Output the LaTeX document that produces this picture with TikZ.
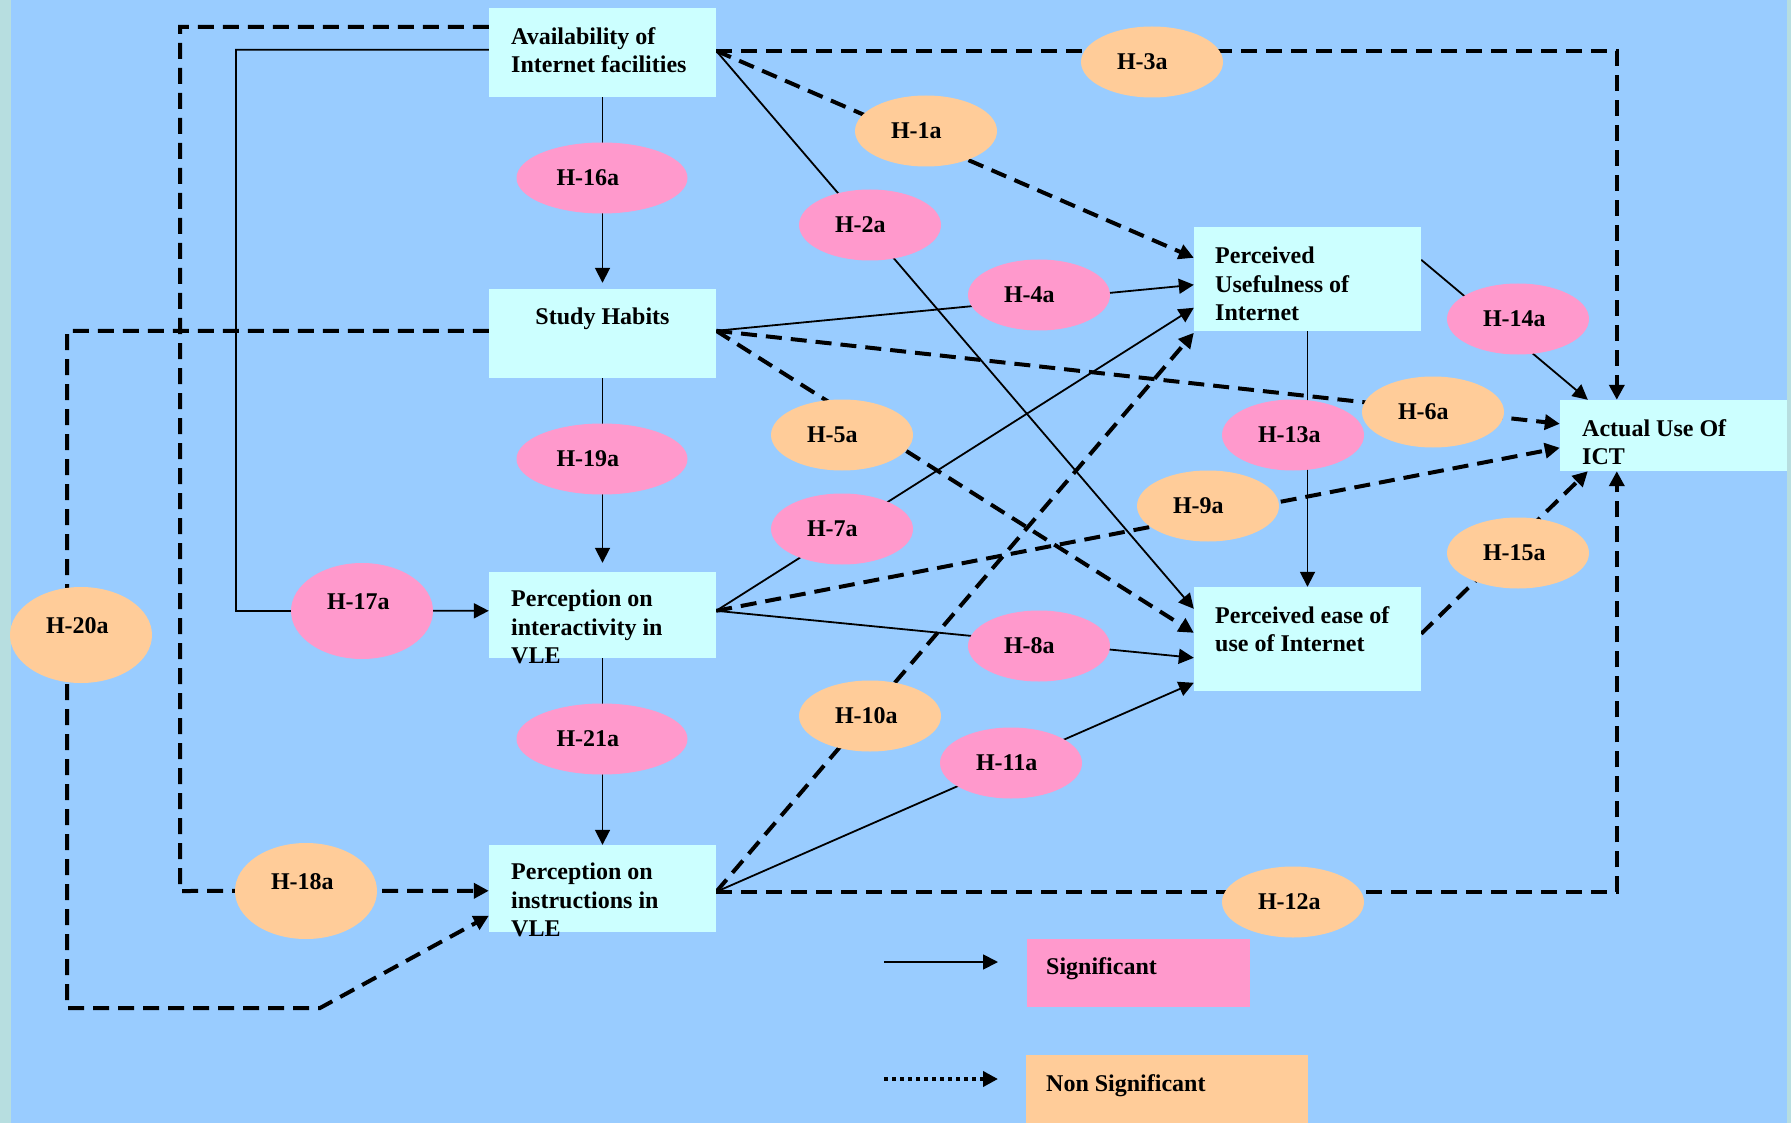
\documentclass[tikz,border=0pt]{standalone}
\usepackage{fontspec}
\setmainfont{Liberation Serif}
\usetikzlibrary{shapes.geometric,arrows.meta,calc}
\definecolor{bgc}{HTML}{99CCFF}
\definecolor{stripc}{HTML}{B7DEE0}
\definecolor{boxc}{HTML}{CCFFFF}
\definecolor{pinkc}{HTML}{FF99CC}
\definecolor{orangec}{HTML}{FFCC99}
\pgfdeclarelayer{back}
\pgfdeclarelayer{lines}
\pgfsetlayers{back,lines,main}
\tikzset{
 boxn/.style={fill=boxc, inner sep=0pt, minimum width=227pt},
 btxt/.style={font=\bfseries\fontsize{24}{28.5}\selectfont, align=left, inner sep=0pt, anchor=north west},
 hyp/.style={ellipse, inner sep=0pt, minimum width=142pt, minimum height=71pt, text width=70pt, align=left, font=\bfseries\fontsize{24}{28.5}\selectfont},
 hypw/.style={hyp, minimum width=171pt, text width=91pt},
 hypt/.style={hyp, minimum height=96pt, text height=16pt, text depth=20pt},
 sigf/.style={fill=pinkc},
 nsf/.style={fill=orangec},
 sol/.style={line width=1.8pt},
 dsh/.style={line width=4pt, dash pattern=on 16pt off 9pt},
 dotl/.style={line width=4pt, dash pattern=on 4pt off 4pt},
 arr/.style={-{Triangle[length=15pt,width=15pt]}},
}
\begin{document}
\begin{tikzpicture}[x=1pt,y=-1pt]
\useasboundingbox (0,0) rectangle (1791,1123);
\begin{pgfonlayer}{back}
\fill[bgc] (0,0) rectangle (1791,1123);
\fill[stripc] (0,0) rectangle (11,1123);
\fill[stripc] (1787,0) rectangle (1791,1123);
\end{pgfonlayer}

% boxes
\node[boxn, minimum height=89pt] (avail) at (602.5,52.5) {};
\node[boxn, minimum height=89pt] (study) at (602.5,333.5) {};
\node[boxn, minimum height=86pt] (inter) at (602.5,615) {};
\node[boxn, minimum height=87pt] (instr) at (602.5,888.5) {};
\node[boxn, minimum height=104pt] (pu) at (1307.5,279) {};
\node[boxn, minimum height=104pt] (pe) at (1307.5,639) {};
\node[boxn, minimum height=71pt] (au) at (1673.5,435.5) {};
\node[fill=pinkc, inner sep=0pt, minimum width=223pt, minimum height=68pt] (sigbox) at (1138.5,973) {};
\node[fill=orangec, inner sep=0pt, minimum width=282pt, minimum height=68pt] (nsbox) at (1167,1089) {};

% box texts
\node[btxt] (availT) at (511,27) {Availability of\\Internet facilities};
\node[btxt, anchor=north] (studyT) at (602.5,308) {Study Habits};
\node[btxt] (interT) at (511,590) {Perception on\\interactivity in\\VLE};
\node[btxt] (instrT) at (511,863) {Perception on\\instructions in\\VLE};
\node[btxt] (puT) at (1215,247) {Perceived\\Usefulness of\\Internet};
\node[btxt] (peT) at (1215,606) {Perceived ease of\\use of Internet};
\node[btxt] (auT) at (1582,419) {Actual Use Of\\ICT};
\node[btxt] (sigT) at (1046,957) {Significant};
\node[btxt] (nsT) at (1046,1074) {Non Significant};

% hypothesis ellipses
\node[hyp, nsf] (h3) at (1152,62) {H-3a};
\node[hyp, nsf] (h1) at (926,131) {H-1a};
\node[hypw, sigf] (h16) at (602,178) {H-16a};
\node[hyp, sigf] (h2) at (870,225) {H-2a};
\node[hyp, sigf] (h4) at (1039,295) {H-4a};
\node[hyp, sigf] (h14) at (1518,319) {H-14a};
\node[hypw, sigf] (h19) at (602,459) {H-19a};
\node[hyp, nsf] (h5) at (842,435) {H-5a};
\node[hyp, nsf] (h6) at (1433,412) {H-6a};
\node[hyp, sigf] (h13) at (1293,435) {H-13a};
\node[hyp, nsf] (h9) at (1208,506) {H-9a};
\node[hyp, sigf] (h7) at (842,529) {H-7a};
\node[hyp, nsf] (h15) at (1518,553) {H-15a};
\node[hypt, sigf] (h17) at (362,611) {H-17a};
\node[hypt, nsf] (h20) at (81,635) {H-20a};
\node[hyp, sigf] (h8) at (1039,646) {H-8a};
\node[hyp, nsf] (h10) at (870,716) {H-10a};
\node[hypw, sigf] (h21) at (602,739) {H-21a};
\node[hyp, sigf] (h11) at (1011,763) {H-11a};
\node[hypt, nsf] (h18) at (306,891) {H-18a};
\node[hyp, nsf] (h12) at (1293,902) {H-12a};

% connection points
\coordinate (aR) at ($(avail.north east)+(0,43)$);
\coordinate (sR) at ($(study.north east)+(0,42)$);
\coordinate (iR) at ($(inter.north east)+(0,39)$);
\coordinate (nR) at ($(instr.north east)+(0,47)$);
\coordinate (pu1) at ($(pu.north west)+(0,31)$);
\coordinate (pu2) at ($(pu.north west)+(0,58)$);
\coordinate (pu3) at ($(pu.north west)+(0,81)$);
\coordinate (pu4) at ($(pu.north west)+(0,106)$);
\coordinate (pe1) at ($(pe.north west)+(0,22)$);
\coordinate (pe2) at ($(pe.north west)+(0,46)$);
\coordinate (pe3) at ($(pe.north west)+(0,71)$);
\coordinate (pe4) at ($(pe.north west)+(0,96)$);
\coordinate (au1) at ($(au.north west)+(0,24)$);
\coordinate (au2) at ($(au.north west)+(0,48)$);
\coordinate (auT1) at ($(au.north west)+(28,0)$);
\coordinate (auT2) at ($(au.north west)+(57,0)$);
\coordinate (auB1) at ($(au.south west)+(28,0)$);
\coordinate (auB2) at ($(au.south west)+(57,0)$);
\coordinate (puR) at ($(pu.north east)+(0,33)$);
\coordinate (peR) at ($(pe.north east)+(0,47)$);
\coordinate (aL1) at ($(avail.north west)+(0,19)$);
\coordinate (aL2) at ($(avail.north west)+(0,42)$);
\coordinate (sL) at ($(study.north west)+(0,42)$);
\coordinate (iL) at ($(inter.north west)+(0,39)$);
\coordinate (nL) at ($(instr.north west)+(0,46)$);
\coordinate (nL2) at ($(instr.north west)+(0,71)$);
\coordinate (k1) at (180,891);
\coordinate (k2) at (236,611);
\coordinate (k3) at (67,1008);
\coordinate (k4) at (320,1008);
\coordinate (lgA) at (884,962);
\coordinate (lgB) at (998,962);
\coordinate (lgC) at (884,1079);
\coordinate (lgD) at (998,1079);

\begin{pgfonlayer}{lines}
% significant
\draw[sol, arr, shorten >=6pt] (avail.south) -- (study.north);
\draw[sol, arr, shorten >=9pt] (study.south) -- (inter.north);
\draw[sol, arr] (inter.south) -- (instr.north);
\draw[sol, arr] (aR) -- (pe1);
\draw[sol, arr] (sR) -- (pu2);
\draw[sol, arr] (iR) -- (pu3);
\draw[sol, arr] (iR) -- (pe3);
\draw[sol, arr] (nR) -- (pe4);
\draw[sol, arr] (pu.south) -- (pe.north);
\draw[sol, arr] (puR) -- (auT1);
\draw[sol, arr] (aL2) -| (k2) -- (iL);
% non significant
\draw[dsh, arr] (aR) -- (pu1);
\draw[dsh, arr] (aR) -| (auT2);
\draw[dsh, arr] (sR) -- (pe2);
\draw[dsh, arr] (sR) -- (au1);
\draw[dsh, arr] (iR) -- (au2);
\draw[dsh, arr] (nR) -- (pu4);
\draw[dsh, arr] (nR) -| (auB2);
\draw[dsh, arr] (peR) -- (auB1);
\draw[dsh, arr] (aL1) -| (k1) -- (nL);
\draw[dsh, arr] (sL) -| (k3) -- (k4) -- (nL2);
% legend
\draw[sol, arr] (lgA) -- (lgB);
\draw[dotl, arr] (lgC) -- (lgD);
\end{pgfonlayer}
\end{tikzpicture}
\end{document}
